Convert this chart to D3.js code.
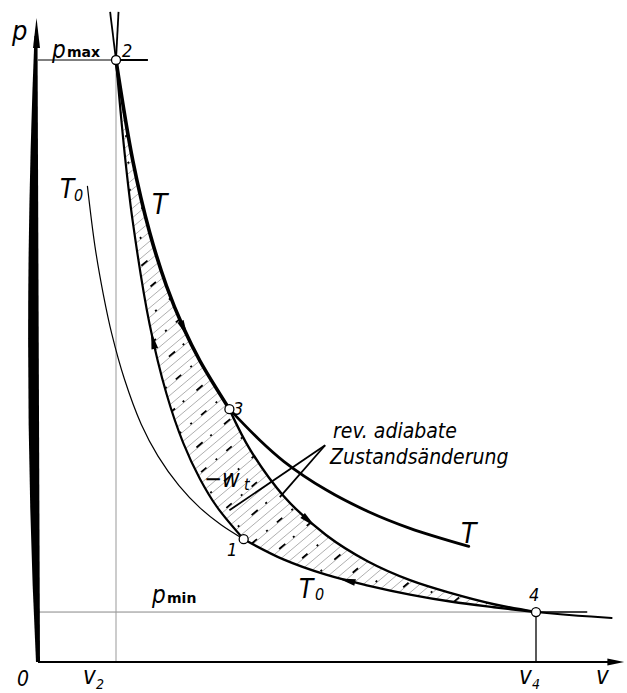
<!DOCTYPE html>
<html>
<head>
<meta charset="utf-8">
<script src="https://cdn.jsdelivr.net/npm/d3@7"></script>
<style>
body { margin: 0; background: #fff; }
text { font-family: "DejaVu Sans Condensed", "DejaVu Sans", sans-serif; font-style: italic; fill: #000; }
.up { font-family: "DejaVu Sans", sans-serif; font-style: normal; font-weight: bold; }
</style>
</head>
<body>
<div id="chart"></div>
<script>
// state points of the cycle (v, p)
const pointNames = ["1", "2", "3", "4"]
const pointV = [2.52, 1.0, 2.35, 6.0]
const pointP = [2.04, 10.0, 4.2, 0.83]

// isotherm T (2 -> 3 -> end)
const isoTV = [1.0, 1.2, 1.4, 1.6, 1.8, 2.0, 2.35, 2.7, 3.0, 3.5, 4.0, 4.5, 5.2]
const isoTP = [10.0, 8.33, 7.14, 6.25, 5.56, 5.0, 4.2, 3.7, 3.33, 2.86, 2.5, 2.22, 1.92]

// isotherm T0 (thin top part, 1 -> 4, past 4)
const isoT0V = [0.66, 0.75, 0.85, 0.95, 1.1, 1.3, 1.5, 1.75, 2.0, 2.25, 2.52, 3.0, 3.5, 4.0, 4.5, 5.0, 5.5, 6.0, 6.5, 6.9]
const isoT0P = [7.9, 6.9, 6.1, 5.45, 4.7, 3.95, 3.42, 2.93, 2.56, 2.28, 2.04, 1.70, 1.45, 1.27, 1.12, 1.0, 0.91, 0.83, 0.77, 0.73]

// adiabat 1 - 2
const adi12V = [1.0, 1.1, 1.2, 1.4, 1.6, 1.8, 2.0, 2.2, 2.52]
const adi12P = [10.0, 8.49, 7.31, 5.61, 4.46, 3.64, 3.04, 2.58, 2.04]

// adiabat 3 - 4
const adi34V = [2.35, 2.6, 3.0, 3.5, 4.0, 4.5, 5.0, 5.5, 6.0]
const adi34P = [4.2, 3.52, 2.75, 2.11, 1.67, 1.36, 1.14, 0.96, 0.83]

// short line ends above point 2
const capV = [0.93, 1.03]
const capP = [10.8, 10.8]

// guide lines
const pmax = 10.0, pmaxEnd = 1.38
const pmin = 0.83, pminEnd = 6.61
const v2 = 1.0, v4 = 6.0

// leader lines for the adiabate label
const leaderFrom = [3.49, 3.6]
const leaderToV = [2.95, 2.35]
const leaderToP = [2.74, 2.52]

const width = 627, height = 693

const svg = d3.select("#chart").append("svg")
    .attr("width", width)
    .attr("height", height)

const x = d3.scaleLinear().domain([0, 7]).range([32, 620])
const y = d3.scaleLinear().domain([0, 10]).range([662, 60])

const pts = (vs, ps) => vs.map((v, i) => [x(v), y(ps[i])])
const curve = d3.line().curve(d3.curveCatmullRom.alpha(0.5))

const isoT = pts(isoTV, isoTP)
const isoT0 = pts(isoT0V, isoT0P)
const adi12 = pts(adi12V, adi12P)
const adi34 = pts(adi34V, adi34P)

const hot = isoT.slice(0, 7)
const hotRest = isoT.slice(6)
const coldTop = isoT0.slice(0, 11)
const cold = isoT0.slice(10, 18)
const coldRest = isoT0.slice(17)

// hatched cycle area
const cyc = curve(hot) +
    curve(adi34).replace(/^M/, "L") +
    curve(cold.slice().reverse()).replace(/^M/, "L") +
    curve(adi12.slice().reverse()).replace(/^M/, "L") + "Z"

svg.append("clipPath").attr("id", "cyc").append("path").attr("d", cyc)

const hatch = svg.append("g").attr("clip-path", "url(#cyc)")
for (let c = 120; c < 1120; c += 9.5) {
    hatch.append("line")
        .attr("x1", 100).attr("y1", c - 0.84 * 100)
        .attr("x2", 560).attr("y2", c - 0.84 * 560)
        .attr("stroke", "#9a9a9a").attr("stroke-width", 0.8)
}
let k = 0
for (let c = 128; c < 1120; c += 28.5) {
    k++
    hatch.append("line")
        .attr("x1", 100).attr("y1", c - 0.84 * 100)
        .attr("x2", 560).attr("y2", c - 0.84 * 560)
        .attr("stroke", "#000").attr("stroke-width", 1.8)
        .attr("stroke-dasharray", k % 2 ? "7,12,2,12" : "2,16,8,10")
}

// guide lines
svg.append("line")
    .attr("x1", x(0) + 6).attr("x2", x(v2)).attr("y1", y(pmax)).attr("y2", y(pmax))
    .attr("stroke", "#000").attr("stroke-width", 1)
svg.append("line")
    .attr("x1", x(v2)).attr("x2", x(pmaxEnd)).attr("y1", y(pmax)).attr("y2", y(pmax))
    .attr("stroke", "#000").attr("stroke-width", 2)
svg.append("line")
    .attr("x1", x(0) + 6).attr("x2", x(v4)).attr("y1", y(pmin)).attr("y2", y(pmin))
    .attr("stroke", "#888").attr("stroke-width", 1)
svg.append("line")
    .attr("x1", x(v4)).attr("x2", x(pminEnd)).attr("y1", y(pmin)).attr("y2", y(pmin))
    .attr("stroke", "#000").attr("stroke-width", 1.6)
svg.append("line")
    .attr("x1", x(v2)).attr("x2", x(v2)).attr("y1", y(0)).attr("y2", y(pmax))
    .attr("stroke", "#999").attr("stroke-width", 1)
svg.append("line")
    .attr("x1", x(v4)).attr("x2", x(v4)).attr("y1", y(0)).attr("y2", y(pmin))
    .attr("stroke", "#000").attr("stroke-width", 1.3)

// curves
const drawCurve = (p, w) => svg.append("path")
    .attr("d", curve(p))
    .attr("fill", "none").attr("stroke", "#000")
    .attr("stroke-width", w).attr("stroke-linecap", "round")

const hotPath = drawCurve(hot, 3.6)
drawCurve(hotRest, 2.8)
drawCurve(coldTop, 1.2)
const coldPath = drawCurve(cold, 2.4)
drawCurve(coldRest, 2)
const adi12Path = drawCurve(adi12, 2.2)
const adi34Path = drawCurve(adi34, 2.4)

capV.forEach((v, i) => {
    svg.append("line")
        .attr("x1", x(pointV[1])).attr("y1", y(pointP[1]))
        .attr("x2", x(v)).attr("y2", y(capP[i]))
        .attr("stroke", "#000").attr("stroke-width", 1.8)
})

// leaders
leaderToV.forEach((v, i) => {
    svg.append("line")
        .attr("x1", x(leaderFrom[0])).attr("y1", y(leaderFrom[1]))
        .attr("x2", x(v)).attr("y2", y(leaderToP[i]))
        .attr("stroke", "#000").attr("stroke-width", 1.8)
})

// arrows on the cycle
const arrow = (sel, targetV, reverse) => {
    const node = sel.node()
    const L = node.getTotalLength()
    const tx = x(targetV)
    let best = 0, bd = Infinity
    for (let l = 0; l <= L; l += 0.5) {
        const p = node.getPointAtLength(l)
        const d = Math.abs(p.x - tx)
        if (d < bd) { bd = d; best = l }
    }
    const a = node.getPointAtLength(Math.max(0, best - 2))
    const b = node.getPointAtLength(Math.min(L, best + 2))
    let dx = b.x - a.x, dy = b.y - a.y
    const n = Math.hypot(dx, dy)
    dx /= n; dy /= n
    if (reverse) { dx = -dx; dy = -dy }
    const c = node.getPointAtLength(best)
    const len = 17, w = 3.4
    const tip = [c.x + dx * len / 2, c.y + dy * len / 2]
    const base = [c.x - dx * len / 2, c.y - dy * len / 2]
    svg.append("path")
        .attr("d", d3.line()([tip, [base[0] - dy * w, base[1] + dx * w], [base[0] + dy * w, base[1] - dx * w]]) + "Z")
        .attr("fill", "#000")
}
arrow(hotPath, 1.81, false)
arrow(adi12Path, 1.44, true)
arrow(adi34Path, 3.3, false)
arrow(coldPath, 3.75, true)

// axes
const x0 = x(0)
svg.append("path")
    .attr("d", `M${x0 + 5.5},${y(10.4)} L${x0 + 8},${y(0)} L${x0 + 4},${y(0)} Q${x0 - 11},${y(5)} ${x0 + 2.5},${y(10.4)} Z`)
    .attr("fill", "#000")
svg.append("path")
    .attr("d", `M${x0 + 4.5},${y(10.7)} L${x0 + 1},${y(10.2)} L${x0 + 8},${y(10.2)} Z`)
    .attr("fill", "#000")
svg.append("line")
    .attr("x1", x0 + 6).attr("x2", x(6.9)).attr("y1", y(0)).attr("y2", y(0))
    .attr("stroke", "#000").attr("stroke-width", 2)
svg.append("path")
    .attr("d", `M${x(7.05)},${y(0)} L${x(6.85)},${y(0) - 3.5} L${x(6.85)},${y(0) + 3.5} Z`)
    .attr("fill", "#000")

// state points
pointNames.forEach((n, i) => {
    svg.append("circle")
        .attr("cx", x(pointV[i])).attr("cy", y(pointP[i])).attr("r", 4.5)
        .attr("fill", "#fff").attr("stroke", "#000").attr("stroke-width", 1.3)
})

// labels
const label = (t, px, py, size, cls) => svg.append("text")
    .attr("x", px).attr("y", py).attr("font-size", size).attr("class", cls || null).text(t)

label("p", 12, 40, 27)
label("p", 52, 58, 24)
label("max", 67, 57, 14, "up")
label("2", 122, 57, 18)
label("T", 60, 198, 26)
label("0", 74, 201, 16)
label("T", 152, 214, 28)
label("3", 233, 415, 18)
label("rev. adiabate", 333, 438, 21)
label("Zustandsänderung", 330, 464, 21)
label("−w", 204, 487, 24)
label("t", 244, 490, 16)
label("T", 461, 543, 28)
label("1", 227, 556, 18)
label("T", 299, 598, 26)
label("0", 315, 600, 16)
label("p", 152, 603, 24)
label("min", 167, 603, 14, "up")
label("4", 529, 601, 18)
label("0", 17, 686, 21)
label("v", x(v2) - 33, 684, 24)
label("2", x(v2) - 20, 689, 14)
label("v", x(v4) - 17, 684, 24)
label("4", x(v4) - 4, 689, 14)
label("v", 596, 684, 24)
</script>
</body>
</html>
